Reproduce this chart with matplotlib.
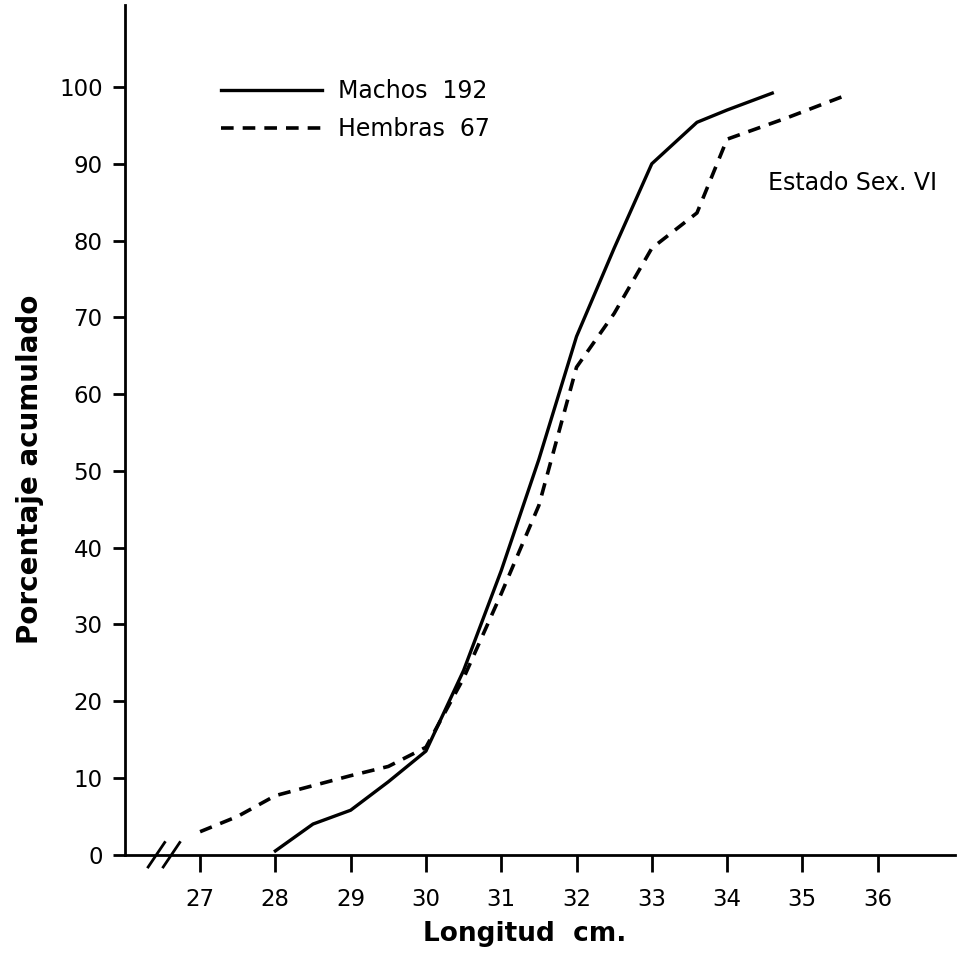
import numpy as np
import matplotlib.pyplot as plt

# datos
long_machos = [28.0, 28.5, 29.0, 29.5, 30.0, 30.5, 31.0, 31.5, 32.0, 32.5, 33.0, 33.6, 34.0, 34.6]
pct_machos = [0.5, 4.0, 5.8, 9.5, 13.5, 24.0, 37.0, 51.5, 67.5, 79.0, 90.0, 95.4, 97.0, 99.2]

long_hembras = [27.0, 27.5, 28.0, 28.5, 29.0, 29.5, 30.0, 30.5, 31.0, 31.5, 32.0, 32.5, 33.0, 33.6, 34.0, 34.8, 35.6]
pct_hembras = [3.0, 5.0, 7.7, 9.0, 10.3, 11.5, 14.0, 23.0, 34.0, 45.5, 63.5, 70.5, 79.0, 83.6, 93.2, 96.0, 99.0]

xticks = [27, 28, 29, 30, 31, 32, 33, 34, 35, 36]
yticks = [0, 10, 20, 30, 40, 50, 60, 70, 80, 90, 100]

fig = plt.figure(figsize=(9.6, 9.68), dpi=100)
ax = fig.add_axes([0.130, 0.117, 0.865, 0.878])

ax.plot(long_machos, pct_machos, color='black', lw=2.4, label='Machos  192')
ax.plot(long_hembras, pct_hembras, color='black', lw=2.6, dashes=(3.5, 2.5), label='Hembras  67')

ax.set_xlim(26.0, 37.03)
ax.set_ylim(0, 110.7)
ax.spines['top'].set_visible(False)
ax.spines['right'].set_visible(False)
ax.spines['left'].set_linewidth(2)
ax.spines['bottom'].set_linewidth(2)

ax.set_xticks(xticks)
ax.set_yticks(yticks)
ax.tick_params(axis='both', direction='out', width=2, labelsize=16.5)
ax.tick_params(axis='x', length=12, pad=12)
ax.tick_params(axis='y', length=9, pad=7)

ax.set_xlabel('Longitud  cm.', fontsize=19, fontweight='bold')
ax.set_ylabel('Porcentaje acumulado', fontsize=20, fontweight='bold')
ax.xaxis.set_label_coords(0.482, -0.078)
ax.yaxis.set_label_coords(-0.097, 0.453)

# marca de corte del eje x
for xc in [26.42, 26.62]:
    ax.plot([xc - 0.11, xc + 0.11], [-1.6, 1.6], color='black', lw=2, clip_on=False)

ax.text(0.876, 0.79, 'Estado Sex. VI', transform=ax.transAxes, fontsize=17,
        ha='center', va='center')

ax.legend(loc='upper left', bbox_to_anchor=(0.09, 0.938), frameon=False, fontsize=17,
          handlelength=4.3, handletextpad=0.65, labelspacing=0.6)

plt.savefig('out.png', dpi=100)
